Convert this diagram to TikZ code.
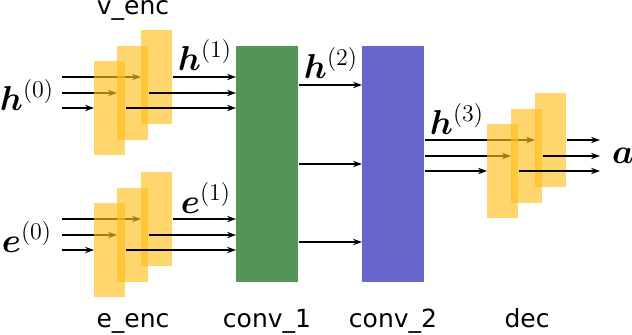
\documentclass[tikz,border=0pt]{standalone}
\usepackage[no-math]{fontspec}
\newfontfamily\dejavu{DejaVu Sans}
\usepackage{amsmath,bm}
\usetikzlibrary{arrows.meta}
\definecolor{encorange}{RGB}{255,190,30}
\definecolor{convgreen}{RGB}{84,148,84}
\definecolor{convblue}{RGB}{102,102,204}
\tikzset{
  encbox/.style={fill=encorange, fill opacity=0.65, draw=none, inner sep=0pt,
    minimum width=15.5pt, minimum height=47pt, anchor=north west},
  convbox/.style={draw=none, inner sep=0pt, minimum width=31pt, minimum height=118pt, anchor=north west},
  arr/.style={-{Stealth[length=4.5pt,width=3.2pt]}, line width=0.7pt, black},
  lbl/.style={font=\dejavu\fontsize{12.5}{15}\selectfont, inner sep=0pt, anchor=base},
  mlbl/.style={font=\fontsize{16.5}{20}\selectfont, inner sep=0pt},
}
\begin{document}
\begin{tikzpicture}[x=0.5pt,y=-0.5pt]
\useasboundingbox (0,0) rectangle (632,334);
% conv blocks
\node[convbox, fill=convgreen] (c1) at (236,46) {};
\node[convbox, fill=convblue] (c2) at (362,46) {};
% coordinates
\foreach \g/\dy in {v/0,e/142}{
  \coordinate (\g in1) at (62,77+\dy);
  \coordinate (\g in2) at (62,93+\dy);
  \coordinate (\g in3) at (62,108+\dy);
}
\coordinate (din1) at (424,140);
\coordinate (din2) at (424,156);
\coordinate (din3) at (424,171);
% invisible named boxes for positions
\foreach \g/\dy in {v/0,e/142}{
  \path (94,61+\dy) node[encbox, opacity=0] (\g1) {};
  \path (117,46+\dy) node[encbox, opacity=0] (\g2) {};
  \path (141,30+\dy) node[encbox, opacity=0] (\g3) {};
}
\path (487,124) node[encbox, opacity=0] (d1) {};
\path (511,109) node[encbox, opacity=0] (d2) {};
\path (535,93) node[encbox, opacity=0] (d3) {};
% input arrows (under boxes)
\foreach \g in {v,e}{
  \draw[arr] (\g in1) -- (\g in1 -| \g3.west);
  \draw[arr] (\g in2) -- (\g in2 -| \g2.west);
  \draw[arr] (\g in3) -- (\g in3 -| \g1.west);
}
\draw[arr] (c2.east |- din1) -- (din1 -| d3.west);
\draw[arr] (c2.east |- din2) -- (din2 -| d2.west);
\draw[arr] (c2.east |- din3) -- (din3 -| d1.west);
% visible boxes
\foreach \g/\dy in {v/0,e/142}{
  \path (94,61+\dy) node[encbox] {};
  \path (117,46+\dy) node[encbox] {};
  \path (141,30+\dy) node[encbox] {};
}
\path (487,124) node[encbox] {};
\path (511,109) node[encbox] {};
\path (535,93) node[encbox] {};
% output arrows
\foreach \g in {v,e}{
  \draw[arr] (\g3.east |- \g in1) -- (\g in1 -| c1.west);
  \draw[arr] (\g2.east |- \g in2) -- (\g in2 -| c1.west);
  \draw[arr] (\g1.east |- \g in3) -- (\g in3 -| c1.west);
}
\coordinate (cc1) at (0,85);
\coordinate (cc2) at (0,164);
\coordinate (cc3) at (0,242);
\foreach \i in {1,2,3}{
  \draw[arr] (c1.east |- cc\i) -- (c2.west |- cc\i);
}
\coordinate (aout) at (600,0);
\draw[arr] (d3.east |- din1) -- (aout |- din1);
\draw[arr] (d2.east |- din2) -- (aout |- din2);
\draw[arr] (d1.east |- din3) -- (aout |- din3);
% labels
\node[lbl] (lv) at (133,14) {v\_enc};
\node[lbl] (le) at (133,327) {e\_enc};
\node[lbl] (lc1) at (267,327) {conv\_1};
\node[lbl] (lc2) at (393,327) {conv\_2};
\node[lbl] (ld) at (527,327) {dec};
\node[mlbl] (h0) at (27,95) {$\bm{h}^{(0)}$};
\node[mlbl] (h1) at (205,55) {$\bm{h}^{(1)}$};
\node[mlbl] (e0) at (27,237) {$\bm{e}^{(0)}$};
\node[mlbl] (e1) at (206,198) {$\bm{e}^{(1)}$};
\node[mlbl] (h2) at (331,63) {$\bm{h}^{(2)}$};
\node[mlbl] (h3) at (457,119) {$\bm{h}^{(3)}$};
\node[mlbl] (a) at (623,156) {$\bm{a}$};
\end{tikzpicture}
\end{document}
